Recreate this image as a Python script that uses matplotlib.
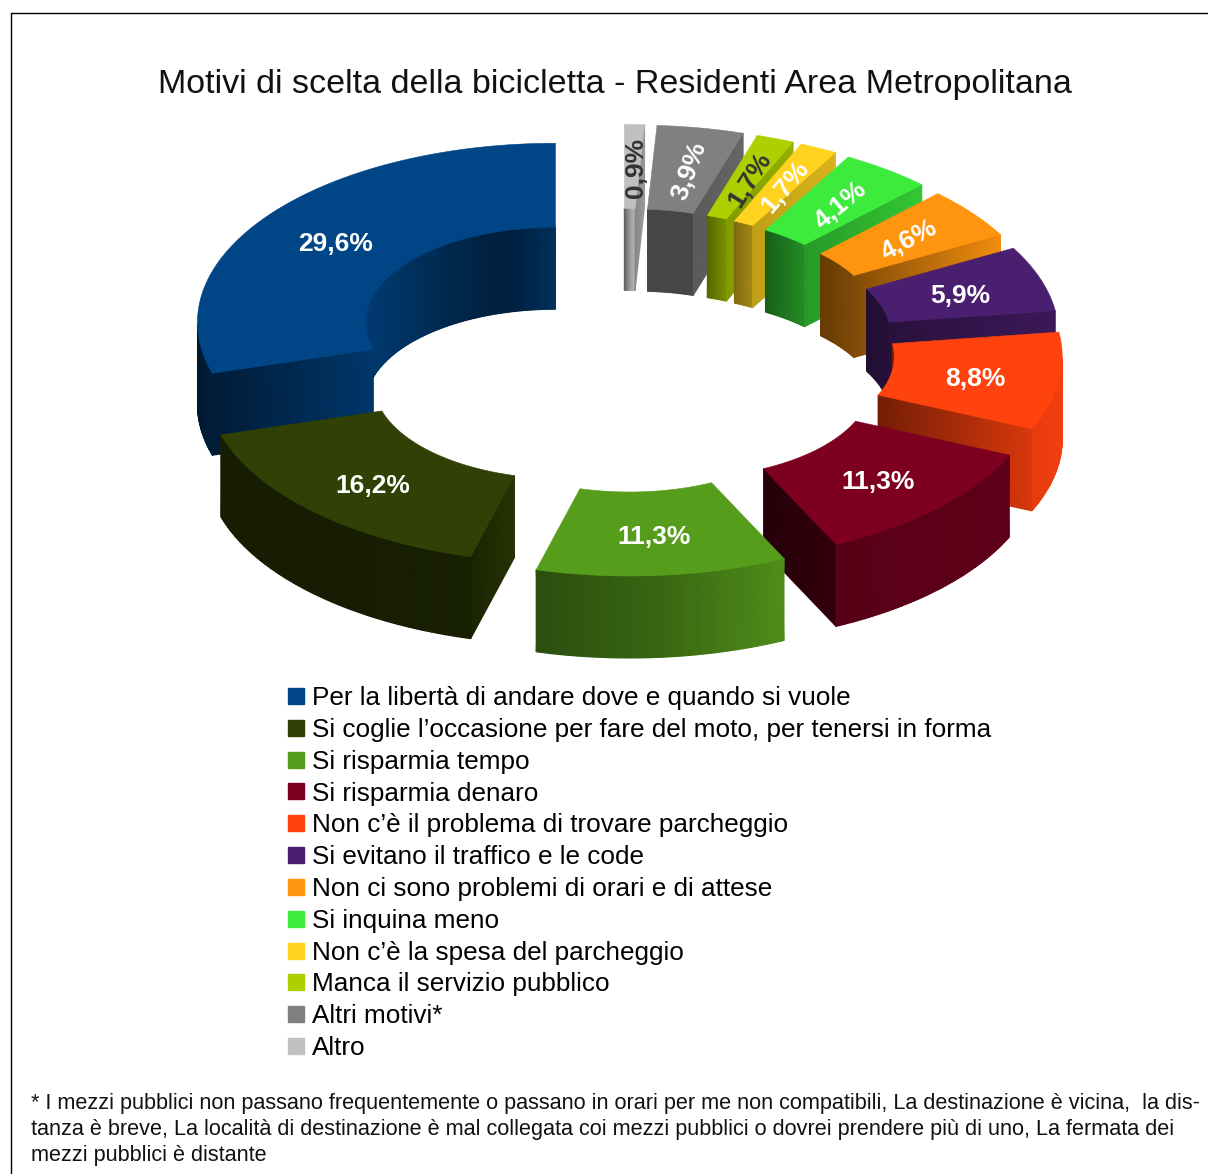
import numpy as np
import matplotlib
matplotlib.use("Agg")
import matplotlib.pyplot as plt
from matplotlib.colors import LinearSegmentedColormap
from matplotlib.lines import Line2D
from matplotlib.patches import Polygon

plt.rcParams['font.family'] = ['Liberation Sans', 'DejaVu Sans']

labels = [
    "Per la libertà di andare dove e quando si vuole",
    "Si coglie l’occasione per fare del moto, per tenersi in forma",
    "Si risparmia tempo",
    "Si risparmia denaro",
    "Non c’è il problema di trovare parcheggio",
    "Si evitano il traffico e le code",
    "Non ci sono problemi di orari e di attese",
    "Si inquina meno",
    "Non c’è la spesa del parcheggio",
    "Manca il servizio pubblico",
    "Altri motivi*",
    "Altro",
]
values = [29.6, 16.2, 11.3, 11.3, 8.8, 5.9, 4.6, 4.1, 1.7, 1.7, 3.9, 0.9]
value_text = ["29,6%", "16,2%", "11,3%", "11,3%", "8,8%", "5,9%", "4,6%", "4,1%", "1,7%", "1,7%", "3,9%", "0,9%"]

colors = ["#004586", "#314004", "#579d1c", "#7e0021", "#ff420e", "#4b1f6f",
          "#ff950e", "#3deb3d", "#ffd320", "#aecf00", "#808080", "#c0c0c0"]
label_colors = ["white"] * 9 + ["#333333", "white", "#333333"]
label_rotation = [0, 0, 0, 0, 0, 0, 28, 40, 50, 58, 70, 90]

# shading, left to right on screen
inner_shade = [[0.85, 0.7, 0.55, 0.45, 0.7], [0.5, 0.5], [0.5, 0.5], [0.4, 0.4], [0.45, 0.45],
               [0.45, 0.5], [0.4, 0.5], [0.4, 0.6], [0.5, 0.65], [0.5, 0.7], [0.55, 0.55], [0.5, 0.8, 0.95]]
outer_shade = [[0.35, 0.45], [0.45, 0.45, 0.5], [0.5, 0.65, 0.9], [0.7, 0.75], [0.9, 0.95], [0.9, 0.9],
               [0.9, 0.9], [0.9, 0.9], [0.9, 0.9], [0.9, 0.9], [0.9, 0.9], [0.9, 0.9]]
# cut face, outer edge then inner edge
cut_shade = [(0.4, 0.8), (0.55, 0.8), (0.7, 0.7), (0.4, 0.3), (0.85, 0.45), (0.8, 0.55),
             (0.95, 0.5), (0.85, 0.65), (0.85, 0.75), (0.85, 0.75), (0.8, 0.7), (0.8, 0.7)]

footnote = [
    "* I mezzi pubblici non passano frequentemente o passano in orari per me non compatibili, La destinazione è vicina,  la dis-",
    "tanza è breve, La località di destinazione è mal collegata coi mezzi pubblici o dovrei prendere più di uno, La fermata dei",
    "mezzi pubblici è distante",
]

W, H = 1208, 1174
CX, CY = 622, 350.3
R_OUT, R_IN = 358, 190
K = 0.5
K_EXPL = 0.565
EXPL = 83
DEPTH = 82


def arc(cx, cy, r, t):
    return cx + r * np.cos(t), cy - r * K * np.sin(t)


def draw_wall(ax, xs, ys, color, shade, z):
    # one face as a gradient mesh, top edge xs, ys and DEPTH below it
    if len(xs) < 2:
        return
    cmap = LinearSegmentedColormap.from_list("s", ["black", color])
    X = np.vstack([xs, xs])
    Y = np.vstack([ys, ys + DEPTH])
    C = np.vstack([shade, shade])
    ax.pcolormesh(X, Y, C, cmap=cmap, vmin=0, vmax=1, shading='gouraud', zorder=z)


def curved_wall(ax, cx, cy, r, t, color, stops, z):
    xs, ys = arc(cx, cy, r, t)
    if len(xs) < 2:
        return
    o = np.argsort(xs)
    xs, ys = xs[o], ys[o]
    f = (xs - xs.min()) / max(xs.max() - xs.min(), 1e-6)
    draw_wall(ax, xs, ys, color, np.interp(f, np.linspace(0, 1, len(stops)), stops), z)


fig = plt.figure(figsize=(W / 100, H / 100), dpi=100)
ax = fig.add_axes([0, 0, 1, 1])
ax.set_xlim(0, W)
ax.set_ylim(H, 0)
ax.axis('off')

ax.add_line(Line2D([11, 11, W], [H, 13, 13], color='black', lw=1.0))
ax.text(615, 85, "Motivi di scelta della bicicletta - Residenti Area Metropolitana",
        ha='center', va='center', fontsize=24.5, color='#111111')

# slice angles, counter clockwise from the top
cum = np.cumsum([0] + values)
total = cum[-1]
starts = np.radians(90 + cum[:-1] / total * 360)
ends = np.radians(90 + cum[1:] / total * 360)
mids = (starts + ends) / 2

# back slices first
order = np.argsort(-np.sin(mids))
for rank, i in enumerate(order):
    a1, a2, m = starts[i], ends[i], mids[i]
    cx = CX + EXPL * np.cos(m)
    cy = CY - EXPL * K_EXPL * np.sin(m)
    z = 10 + rank * 5
    t = np.linspace(a1, a2, max(int(np.degrees(a2 - a1) * 2), 8))

    # inner wall
    curved_wall(ax, cx, cy, R_IN, t[np.sin(t) > 0], colors[i], inner_shade[i], z)

    # cut faces
    rs = np.array([R_OUT, R_IN])
    if np.sin(a1 - np.pi / 2) < 0:
        xs, ys = arc(cx, cy, rs, a1)
        draw_wall(ax, xs, ys, colors[i], np.array(cut_shade[i]), z + 1)
    if np.sin(a2 + np.pi / 2) < 0:
        xs, ys = arc(cx, cy, rs, a2)
        draw_wall(ax, xs, ys, colors[i], np.array(cut_shade[i]), z + 1)

    # outer wall
    curved_wall(ax, cx, cy, R_OUT, t[np.sin(t) < 0], colors[i], outer_shade[i], z + 2)

    # top
    ox, oy = arc(cx, cy, R_OUT, t)
    ix, iy = arc(cx, cy, R_IN, t[::-1])
    pts = np.column_stack([np.r_[ox, ix], np.r_[oy, iy]])
    ax.add_patch(Polygon(pts, closed=True, facecolor=colors[i], edgecolor=colors[i],
                         linewidth=0.4, zorder=z + 3))

    lx, ly = arc(cx, cy, (R_OUT + R_IN) / 2, m)
    if label_rotation[i]:
        lx, ly = lx + 4, ly + 1.7
    else:
        ly = ly + 3.7
    ax.text(lx, ly, value_text[i], ha='center', va='center', fontsize=19, fontweight='bold',
            color=label_colors[i], rotation=label_rotation[i], rotation_mode='anchor', zorder=200)

handles = [Line2D([], [], linestyle='none', marker='s', markersize=11, color=c) for c in colors]
fig.legend(handles, labels, loc='upper left', bbox_to_anchor=(283 / W, 1 - 686 / H), frameon=False,
           fontsize=18.8, labelspacing=0.3, handlelength=1.0, handletextpad=0.11,
           borderpad=0, borderaxespad=0)

for j, line in enumerate(footnote):
    ax.text(31, 1103.5 + j * 26, line, ha='left', va='center', fontsize=15.55, color='#111111')

fig.savefig("out.png", dpi=100)
